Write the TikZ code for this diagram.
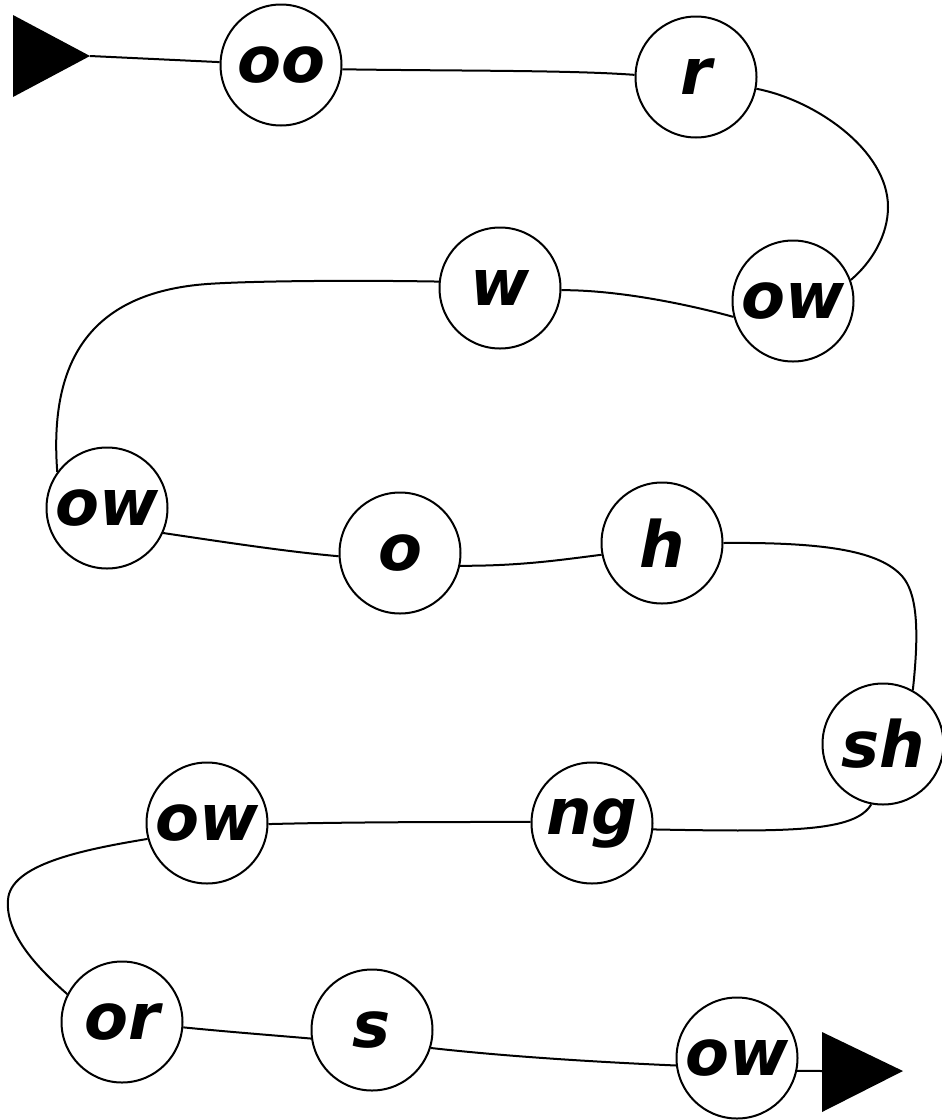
\documentclass[tikz,border=0pt]{standalone}
\usepackage{fontspec}
\setmainfont{DejaVu Sans}
\begin{document}
\begin{tikzpicture}[x=1pt,y=-1pt,
  phon/.style={circle,draw,line width=2pt,minimum size=121pt,inner sep=0pt,
    font=\fontsize{64}{64}\selectfont\bfseries\itshape},
  link/.style={line width=2pt},
  tip/.style={fill=black}]
\useasboundingbox (0,0) rectangle (942,1120);
\node[phon] (n1) at (281,65) {oo};
\node[phon] (n2) at (696,77) {r};
\node[phon] (n3) at (793,301) {ow};
\node[phon] (n4) at (500,288) {w};
\node[phon] (n5) at (107,508) {ow};
\node[phon] (n6) at (400,553) {o};
\node[phon] (n7) at (662,543) {h};
\node[phon] (n8) at (883,744) {sh};
\node[phon] (n9) at (592,823) {ng};
\node[phon] (n10) at (207,823) {ow};
\node[phon] (n11) at (122,1022) {or};
\node[phon] (n12) at (372,1030) {s};
\node[phon] (n13) at (737,1058) {ow};
\coordinate (st) at (90,56);
\coordinate (en) at (822,1071);
\fill[tip] (13,15) -- (st) -- (13,97) -- cycle;
\fill[tip] (822,1032) -- (903,1071) -- (822,1112) -- cycle;
\draw[link] (st) -- (n1);
\draw[link] (n1.-4) .. controls (450,71) and (570,70) .. (n2.178);
\draw[link] (n2.-11) .. controls (815,100) and (888,150) .. (888,207) .. controls (888,235) and (872,262) .. (n3.20);
\draw[link] (n3.195) .. controls (690,305) and (620,290) .. (n4.-2);
\draw[link] (n4.174) .. controls (350,280) and (250,281) .. (207,284) .. controls (100,292) and (48,350) .. (n5.144);
\draw[link] (n5.-24) .. controls (230,543) and (290,552) .. (n6.183);
\draw[link] (n6.-12) .. controls (520,566) and (560,560) .. (n7.191);
\draw[link] (n7.0) .. controls (830,542) and (880,552) .. (902,576) .. controls (916,592) and (920,625) .. (n8.61);
\draw[link] (n8.259) .. controls (855,832) and (790,832) .. (n9.-6);
\draw[link] (n9.179) .. controls (440,822) and (350,822) .. (n10.-1);
\draw[link] (n10.195) .. controls (80,850) and (10,865) .. (8,900) .. controls (5,935) and (40,970) .. (n11.153);
\draw[link] (n11.-5) .. controls (230,1032) and (270,1035) .. (n12.188);
\draw[link] (n12.-17) .. controls (520,1058) and (620,1063) .. (n13.187);
\draw[link] (n13.-12) -- (en);
\end{tikzpicture}
\end{document}
